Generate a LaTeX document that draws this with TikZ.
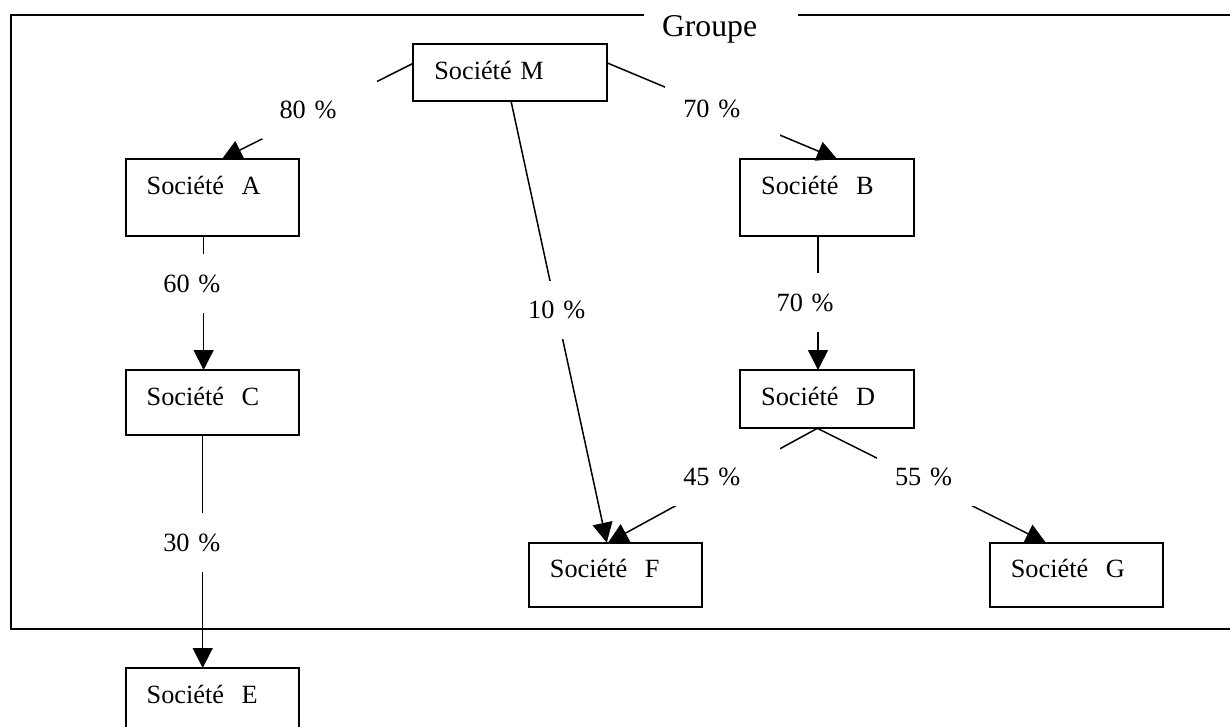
\documentclass[tikz,border=0pt]{standalone}
\usepackage{fontspec}
\setmainfont[WordSpace=0.85]{Liberation Serif}
\usetikzlibrary{arrows.meta,calc}
\newcommand\socfont{\fontsize{26.3pt}{31pt}\selectfont}
\newcommand\grpfont{\fontsize{31.7pt}{37pt}\selectfont}
\begin{document}
\begin{tikzpicture}[x=1pt,y=-1pt,
  soc/.style={draw, line width=1.9pt, fill=white, anchor=north west, outer sep=0pt,
    inner xsep=21pt, inner ysep=0pt, text height=35pt, text width=131.4pt,
    align=left, font=\socfont},
  conn/.style={line width=1.5pt, -{Triangle[length=20pt,width=20pt]}},
  pct/.style={fill=white, inner xsep=18pt, inner ysep=0pt, text width=79pt,
    align=left, minimum height=58pt, font=\socfont, outer sep=0pt},
  grpframe/.style={line width=2.2pt},
  grplabel/.style={fill=white, inner xsep=18pt, inner ysep=0pt, text width=118pt,
    align=left, minimum height=40pt, font=\grpfont, outer sep=0pt}]
\useasboundingbox (0,0) rectangle (1230,726);
\clip (0,0) rectangle (1230,726);
% group frame (its right side lies beyond the picture)
\draw[grpframe] (1234,15) -- (10.7,15) -- (10.7,629.3) -- (1234,629.3);
% companies
\node[soc, text width=151.4pt, text depth=22pt] (M) at (413.3,44) {Société M};
\node[soc, text depth=42pt] (A) at (125.7,159) {Société\ \ A};
\node[soc, text depth=42pt] (B) at (740.2,159) {Société\ \ B};
\node[soc, text depth=29.7pt] (C) at (125.7,370) {Société\ \ C};
\node[soc, text depth=23.3pt] (D) at (740.2,370) {Société\ \ D};
\node[soc, text depth=45pt] (E) at (125.7,668) {Société\ \ E};
\node[soc, text depth=29.6pt] (F) at (528.9,542.7) {Société\ \ F};
\node[soc, text depth=29.6pt] (G) at (989.8,542.7) {Société\ \ G};
% connectors
\draw[conn] ($(M.west)+(0,-9.2)$) -- ($(A.north)+(9.6,0)$);
\draw[conn] ($(M.east)+(0,-9.8)$) -- ($(B.north)+(10.2,0)$);
\draw[conn] ($(M.south)+(1,0)$) -- ($(F.north)+(-8.8,0)$);
\draw[conn] ($(A.south)+(-8.8,0)$) -- ($(C.north)+(-8.8,0)$);
\draw[conn] ($(B.south)+(-8.9,0)$) -- ($(D.north)+(-8.9,0)$);
\draw[conn] ($(C.south)+(-9.7,0)$) -- ($(E.north)+(-9.7,0)$);
\draw[conn] ($(D.south)+(-9.5,0)$) -- ($(F.north)+(-7.6,0)$);
\draw[conn] ($(D.south)+(-9.5,0)$) -- ($(G.north)+(-30.7,0)$);
% percentage labels
\node[pct] (l80) at (319,110) {80 \%};
\node[pct] (l70a) at (722.8,108.6) {70 \%};
\node[pct] (l10) at (567.7,309.6) {10 \%};
\node[pct, minimum height=59pt] (l60) at (202.9,283.8) {60 \%};
\node[pct, minimum height=59pt] (l70b) at (816.1,302.8) {70 \%};
\node[pct, minimum height=59pt] (l30) at (202.8,542.5) {30 \%};
\node[pct] (l45) at (722.8,476.5) {45 \%};
\node[pct] (l55) at (934.5,476.5) {55 \%};
% group title
\node[grplabel] (grp) at (721,29.8) {Groupe};
\end{tikzpicture}
\end{document}
